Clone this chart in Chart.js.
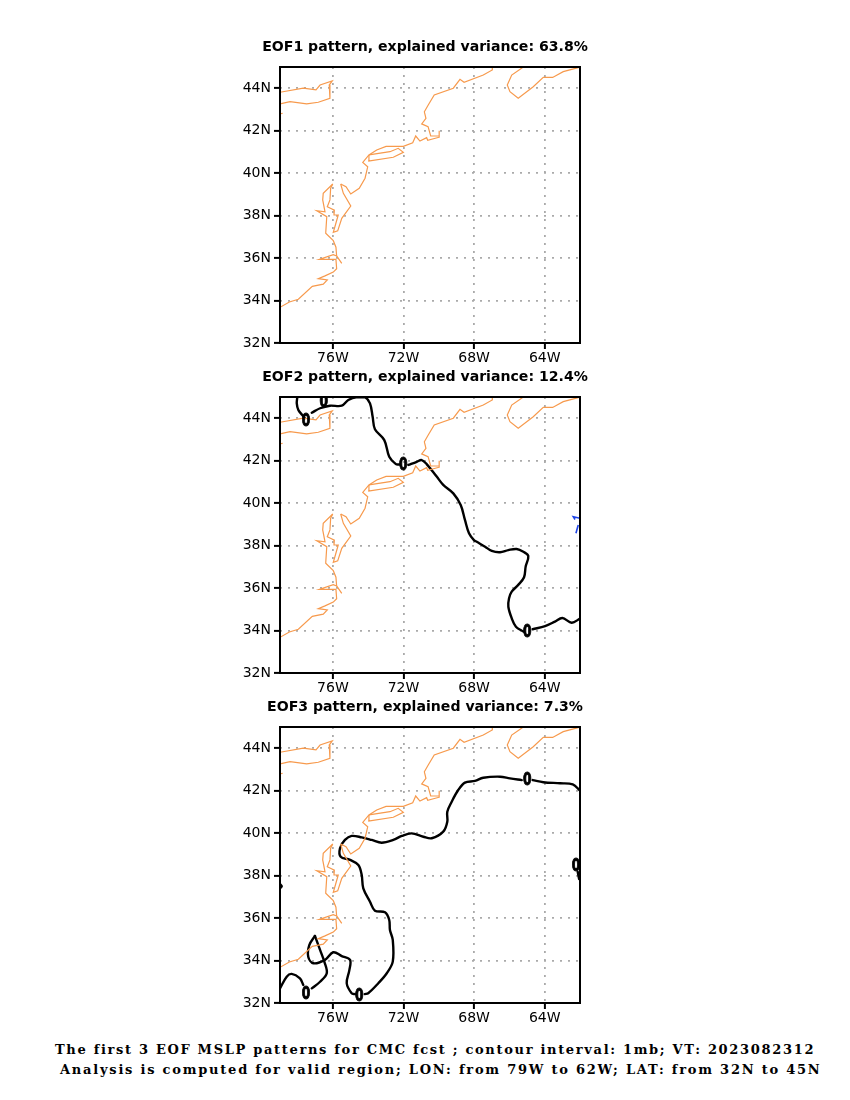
<!DOCTYPE html>
<html><head><meta charset="utf-8">
<script src="https://cdn.jsdelivr.net/npm/chart.js@4"></script>
<style>
html,body{margin:0;padding:0;background:#fff;}
canvas{position:absolute;left:215px;}
.foot{position:absolute;white-space:pre;font:bold 13px "DejaVu Serif",serif;color:#000;letter-spacing:1.68px;line-height:20px;}
</style></head><body>
<canvas id="c1" width="420" height="330" style="top:35px"></canvas>
<canvas id="c2" width="420" height="330" style="top:365px"></canvas>
<canvas id="c3" width="420" height="330" style="top:695px"></canvas>
<div class="foot" id="f1" style="left:55px;top:1040px"></div>
<div class="foot" id="f2" style="left:60px;top:1060px;letter-spacing:1.77px"></div>
<script>
const lonTicks=[-76,-72,-68,-64];
const latTicks=[32,34,36,38,40,42,44];
const titles=["EOF1 pattern, explained variance: 63.8%","EOF2 pattern, explained variance: 12.4%","EOF3 pattern, explained variance: 7.3%"];
const footLines=["The first 3 EOF MSLP patterns for CMC fcst ; contour interval: 1mb; VT: 2023082312","Analysis is computed for valid region; LON: from 79W to 62W; LAT: from 32N to 45N"];

// coastline, [lon, lat]
const coastLakes=[[-79,43.81],[-77.68,44.0],[-76.96,43.92],[-76.73,44.15],[-76.04,44.34],[-76.21,44.15],[-76.17,43.53],[-76.83,43.34],[-77.49,43.26],[-78.43,43.37],[-79,43.26]];
const coastStub=[[-79,42.79],[-78.85,42.82]];
const coastWestBay=[[-76.01,39.49],[-76.55,39.05],[-76.58,38.74],[-76.45,38.18],[-76.92,38.23],[-76.35,37.95],[-76.41,37.17],[-75.98,36.82],[-75.83,36.51],[-75.79,36.10],[-75.50,35.75]];
const coastSouth=[[-75.79,36.10],[-75.98,36.16],[-76.77,35.94],[-75.83,35.94],[-75.79,35.5],[-75.98,35.34],[-76.45,35.16],[-76.83,35.03],[-76.32,34.97],[-76.55,34.77],[-77.17,34.67],[-77.96,34.06],[-78.47,33.93],[-79,33.68]];
const coastEastBay=[[-76.01,39.49],[-76.13,39.29],[-76.17,38.74],[-76.32,38.42],[-75.92,38.26],[-75.94,38.03],[-75.70,38.03],[-75.98,37.21],[-75.73,37.28],[-75.50,37.87],[-74.99,38.45],[-75.41,39.05],[-75.56,39.49]];
const coastNorth=[[-75.56,39.49],[-75.26,39.36],[-74.99,39.02],[-74.51,39.29],[-74.18,39.76],[-74.03,40.30],[-74.31,40.51],[-73.96,40.86],[-73.52,41.09],[-72.99,41.26],[-72.01,41.26],[-71.48,41.43],[-71.31,41.75],[-71.07,41.51],[-70.69,41.67],[-70.63,41.55],[-69.99,41.69],[-69.97,42.0],[-69.99,41.75],[-70.46,41.75],[-70.61,42.19],[-70.97,42.32],[-70.73,42.58],[-70.82,42.89],[-70.60,43.21],[-70.26,43.68],[-69.18,44.0],[-68.8,44.42],[-68.57,44.28],[-67.48,44.62],[-66.97,44.86],[-66.97,45]];
const coastIsland=[[-73.96,40.86],[-72.77,41.01],[-72.30,41.17],[-72.01,40.98],[-72.58,40.75],[-74.0,40.57],[-73.96,40.86]];
const coastEast=[[-65.21,45],[-65.87,44.62],[-66.12,44.15],[-65.97,43.84],[-65.50,43.53],[-64.65,44.07],[-64.08,44.51],[-63.55,44.51],[-62.95,44.78],[-62.1,44.97],[-62,45]];
const coastLines=[coastLakes,coastStub,coastWestBay,coastSouth,coastEastBay,coastNorth,coastIsland,coastEast];

// EOF2 zero contour
const eof2a=[[-78.02,44.99],[-78.05,44.70],[-77.96,44.39],[-77.74,44.15],[-77.60,44.0]];
const eof2b=[[-77.2,44.26],[-76.73,44.47],[-76.17,44.59],[-75.5,44.59],[-75.13,44.86],[-74.62,45.0],[-74.18,44.99],[-73.9,44.70],[-73.75,44.07],[-73.62,43.48],[-73.09,42.97],[-72.81,42.19],[-72.43,41.84],[-72.25,41.82]];
const eof2c=[[-71.73,41.8],[-71.25,41.95],[-70.97,42.03],[-70.69,41.84],[-70.12,41.25],[-69.75,40.86],[-69.18,40.46],[-68.76,39.91],[-68.52,39.21],[-68.29,38.58],[-68.01,38.26],[-67.85,38.18],[-67.38,37.95],[-67.0,37.75],[-66.53,37.69],[-66.06,37.79],[-65.59,37.84],[-65.21,37.71],[-64.93,37.51],[-65.08,37.01],[-65.17,36.51],[-65.5,36.15],[-65.87,35.83],[-66.02,35.52],[-66.06,35.12],[-65.87,34.58],[-65.63,34.18],[-65.21,33.95]];
const eof2d=[[-64.68,34.06],[-63.98,34.21],[-63.42,34.42],[-63.0,34.59],[-62.47,34.37],[-62.0,34.56]];
const eof2Labels=[[-77.53,43.92],[-76.52,44.8],[-72.01,41.84],[-64.99,33.98]];
const eof2Blue1=[[-62.28,39.23],[-62.38,39.36],[-62.0,39.29]];
const eof2Blue2=[[-62.1,38.97],[-62.23,38.58]];

// EOF3 zero contour
const eof3a=[[-62,42.0],[-62.41,42.30],[-63.13,42.35],[-64.08,42.40],[-64.68,42.50]];
const eof3b=[[-65.3,42.5],[-65.97,42.58],[-66.53,42.66],[-67.48,42.61],[-67.95,42.46],[-68.52,42.38],[-68.9,42.03],[-69.27,41.48],[-69.52,41.01],[-69.52,40.54],[-69.75,40.07],[-70.4,39.76],[-70.88,39.83],[-71.54,39.99],[-72.1,39.87],[-72.58,39.68],[-73.24,39.55],[-73.8,39.68],[-74.37,39.8],[-74.94,39.87],[-75.32,39.68],[-75.6,39.29],[-75.56,38.89],[-75.03,38.74],[-74.56,38.5],[-74.37,38.03],[-74.28,37.4],[-73.9,36.77],[-73.62,36.35],[-73.05,36.27],[-72.81,35.91],[-72.77,35.44],[-72.61,34.97],[-72.61,33.95],[-72.95,33.4],[-73.43,32.93],[-74.0,32.46],[-74.2,32.42]];
const eof3c=[[-74.75,32.42],[-74.94,32.46],[-75.22,32.93],[-75.07,33.55],[-75.03,34.03],[-75.5,34.21],[-75.98,34.39],[-76.45,34.03],[-77.11,33.87],[-77.4,34.18],[-77.34,34.73],[-77.02,35.16]];
const eof3d=[[-77.02,35.16],[-76.73,34.5],[-76.49,33.95],[-76.35,33.4],[-76.73,33.0],[-77.2,32.69]];
const eof3e=[[-77.68,32.85],[-77.87,33.16],[-78.34,33.37],[-78.62,33.24],[-79,32.69]];
const eof3f=[[-79,37.6],[-78.9,37.5],[-79,37.4]];
const eof3g=[[-62.13,38.18],[-62.05,37.84]];
const eof3Labels=[[-64.99,42.55],[-74.51,32.38],[-77.53,32.46],[-62.23,38.5]];

const panelBlack=[[],[eof2a,eof2b,eof2c,eof2d],[eof3a,eof3b,eof3c,eof3d,eof3e,eof3f,eof3g]];
const panelBlue=[[],[eof2Blue1,eof2Blue2],[]];
const panelLabels=[[],eof2Labels,eof3Labels];

const pts=a=>a.map(([x,y])=>({x,y}));
const frame={id:'frame',afterDatasetsDraw(c,_,o){
  const {ctx,chartArea:a,scales:{x,y}}=c;
  ctx.save();
  ctx.beginPath();ctx.rect(a.left,a.top,a.right-a.left,a.bottom-a.top);ctx.clip();
  ctx.fillStyle='#000';ctx.strokeStyle='#000';ctx.lineWidth=1;ctx.textAlign='center';ctx.textBaseline='middle';
  ctx.font='bold 17px "DejaVu Sans"';
  (o.labels||[]).forEach(([lon,lat])=>{
    ctx.save();ctx.translate(x.getPixelForValue(lon),y.getPixelForValue(lat)+1.5);ctx.scale(0.72,1);
    ctx.fillText('0',0,0);ctx.strokeText('0',0,0);ctx.restore();
  });
  ctx.restore();
  ctx.save();ctx.strokeStyle='#000';ctx.lineWidth=2;
  ctx.strokeRect(a.left,a.top,a.right-a.left,a.bottom-a.top);ctx.restore();
}};
titles.forEach((t,i)=>{
  const datasets=[];
  coastLines.forEach(l=>datasets.push({data:pts(l),showLine:true,borderColor:'#f79a4d',borderWidth:1.2,pointRadius:0,tension:0}));
  panelBlue[i].forEach(l=>datasets.push({data:pts(l),showLine:true,borderColor:'#1f45e8',borderWidth:1.6,pointRadius:0,tension:0}));
  panelBlack[i].forEach(l=>datasets.push({data:pts(l),showLine:true,borderColor:'#000',borderWidth:2.4,pointRadius:0,tension:0.35,borderCapStyle:'round',borderJoinStyle:'round'}));
  const grid={color:'#aaaaaa',lineWidth:1.8,tickColor:'#000',tickWidth:2,tickLength:6,drawTicks:true};
  const tickFont={family:'"DejaVu Sans"',size:14};
  new Chart(document.getElementById('c'+(i+1)),{
    type:'scatter',
    data:{datasets},
    plugins:[frame],
    options:{
      responsive:false,animation:false,devicePixelRatio:1,
      layout:{padding:0},
      plugins:{
        legend:{display:false},tooltip:{enabled:false},
        title:{display:true,text:t,color:'#000',font:{family:'"DejaVu Sans"',size:14.1,weight:'bold',lineHeight:'16px'},padding:{top:4,bottom:12}},
        frame:{labels:panelLabels[i]}
      },
      scales:{
        x:{type:'linear',min:-79,max:-62,grid,border:{display:false,dash:[2,6]},
          afterBuildTicks:s=>{s.ticks=lonTicks.map(value=>({value}));},
          afterFit:s=>{s.height=22;},
          ticks:{color:'#000',font:tickFont,padding:1,maxRotation:0,autoSkip:false,callback:v=>Math.abs(v)+'W'}},
        y:{type:'linear',min:32,max:45,grid,border:{display:false,dash:[2,6]},
          afterBuildTicks:s=>{s.ticks=latTicks.map(value=>({value}));},
          afterFit:s=>{s.width=65;},
          ticks:{color:'#000',font:tickFont,padding:3,autoSkip:false,callback:v=>v+'N'}},
        rightSpace:{type:'linear',position:'right',display:true,grid:{display:false},border:{display:false},
          ticks:{display:false},afterFit:s=>{s.width=55;}}
      }
    }
  });
});
document.getElementById('f1').textContent=footLines[0];
document.getElementById('f2').textContent=footLines[1];
</script>
</body></html>
